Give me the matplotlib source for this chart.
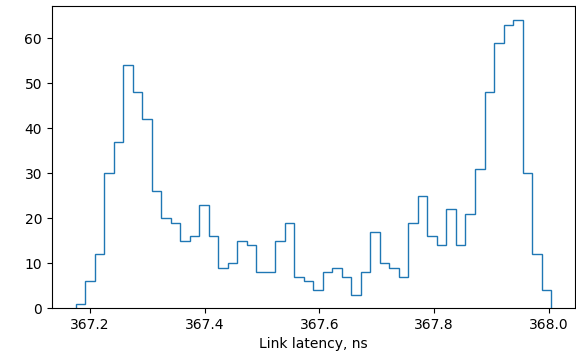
import numpy as np
import matplotlib
matplotlib.use("Agg")
import matplotlib.pyplot as plt

# counts per latency bin
counts = [1, 6, 12, 30, 37, 54, 48, 42, 26, 20,
          19, 15, 16, 23, 16, 9, 10, 15, 14, 8,
          8, 15, 19, 7, 6, 4, 8, 9, 7, 3,
          8, 17, 10, 9, 7, 19, 25, 16, 14, 22,
          14, 21, 31, 48, 59, 63, 64, 30, 12, 4]
lat_min = 367.1755
lat_max = 368.0035
edges = np.linspace(lat_min, lat_max, len(counts) + 1)

fig, ax = plt.subplots(figsize=(5.76, 3.52), dpi=100)
ax.hist(edges[:-1], bins=edges, weights=counts, histtype="step", color="tab:blue")
ax.set_xlabel("Link latency, ns")
ax.set_xticks([367.2, 367.4, 367.6, 367.8, 368.0])
fig.subplots_adjust(left=0.09, right=0.998, top=0.983, bottom=0.125)
fig.savefig("out.png")
